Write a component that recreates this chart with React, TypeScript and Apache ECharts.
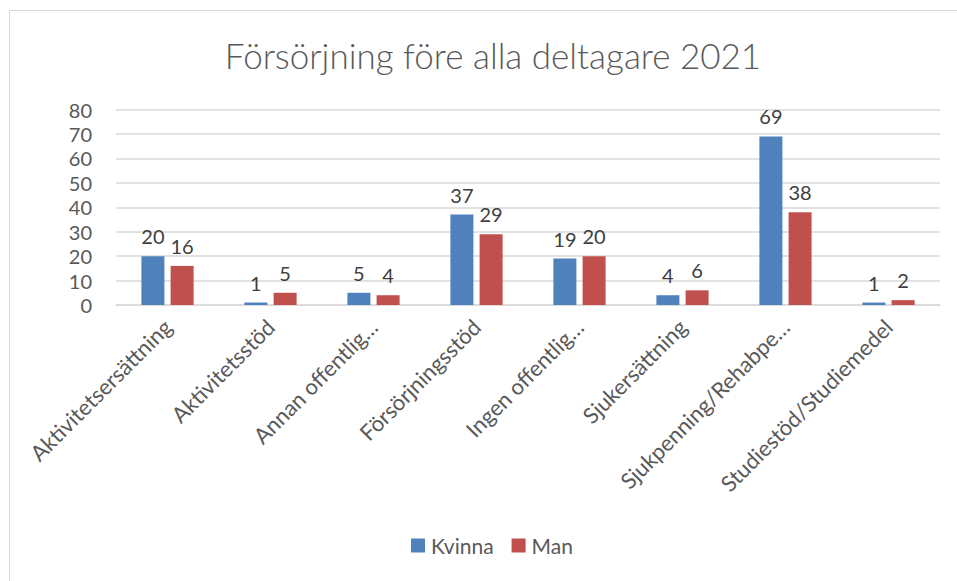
import React, { useEffect, useRef } from "react";
import * as echarts from "echarts";

const categories = [
  "Aktivitetsersättning",
  "Aktivitetsstöd",
  "Annan offentlig…",
  "Försörjningsstöd",
  "Ingen offentlig…",
  "Sjukersättning",
  "Sjukpenning/Rehabpe…",
  "Studiestöd/Studiemedel",
];
const kvinna = [20, 1, 5, 37, 19, 4, 69, 1];
const man = [16, 5, 4, 29, 20, 6, 38, 2];
const yTicks = { min: 0, max: 80, interval: 10 };

const FONT = "Lato, 'Open Sans', sans-serif";

export default function App() {
  const ref = useRef<HTMLDivElement>(null);
  useEffect(() => {
    if (!ref.current) return;
    const chart = echarts.init(ref.current, null, { renderer: "svg" });
    const label = {
      show: true,
      position: "top" as const,
      distance: 10,
      fontSize: 20,
      color: "#404040",
      fontFamily: FONT,
    };
    chart.setOption({
      animation: false,
      title: {
        text: "Försörjning före alla deltagare 2021",
        left: 488,
        textAlign: "center",
        top: 32,
        textStyle: {
          fontSize: 35,
          fontWeight: 300,
          color: "#595959",
          fontFamily: FONT,
        },
      },
      graphic: [
        {
          type: "rect",
          shape: { x: 9.5, y: 10.5, width: 1000, height: 700 },
          style: { fill: "none", stroke: "#d9d9d9", lineWidth: 1 },
          silent: true,
          z: -1,
        },
      ],
      legend: {
        data: ["Kvinna", "Man"],
        bottom: 20,
        left: 406,
        itemWidth: 14,
        itemHeight: 14,
        itemGap: 18,
        icon: "rect",
        textStyle: { fontSize: 21, color: "#595959", fontFamily: FONT, padding: [0, 0, 0, 1] },
      },
      grid: { left: 116, right: 17, top: 109.5, bottom: 276, containLabel: false },
      xAxis: {
        type: "category",
        data: categories,
        axisLine: { lineStyle: { color: "#d9d9d9", width: 1.5 } },
        axisTick: { show: false },
        axisLabel: {
          rotate: 45,
          interval: 0,
          fontSize: 22,
          color: "#595959",
          fontFamily: FONT,
          margin: 18,
        },
      },
      yAxis: {
        type: "value",
        min: yTicks.min,
        max: yTicks.max,
        interval: yTicks.interval,
        axisLine: { show: false },
        axisTick: { show: false },
        splitLine: { lineStyle: { color: "#d9d9d9", width: 1.5 } },
        axisLabel: {
          fontSize: 20,
          color: "#595959",
          fontFamily: FONT,
          margin: 24,
        },
      },
      series: [
        {
          name: "Kvinna",
          type: "bar",
          data: kvinna,
          itemStyle: { color: "#4F81BD" },
          barWidth: 23,
          barGap: "27%",
          label,
        },
        {
          name: "Man",
          type: "bar",
          data: man,
          itemStyle: { color: "#C0504D" },
          barWidth: 23,
          label,
        },
      ],
    });
    return () => chart.dispose();
  }, []);
  return (
    <div
      ref={ref}
      style={{ position: "absolute", left: 0, top: 0, width: 957, height: 581 }}
    />
  );
}
